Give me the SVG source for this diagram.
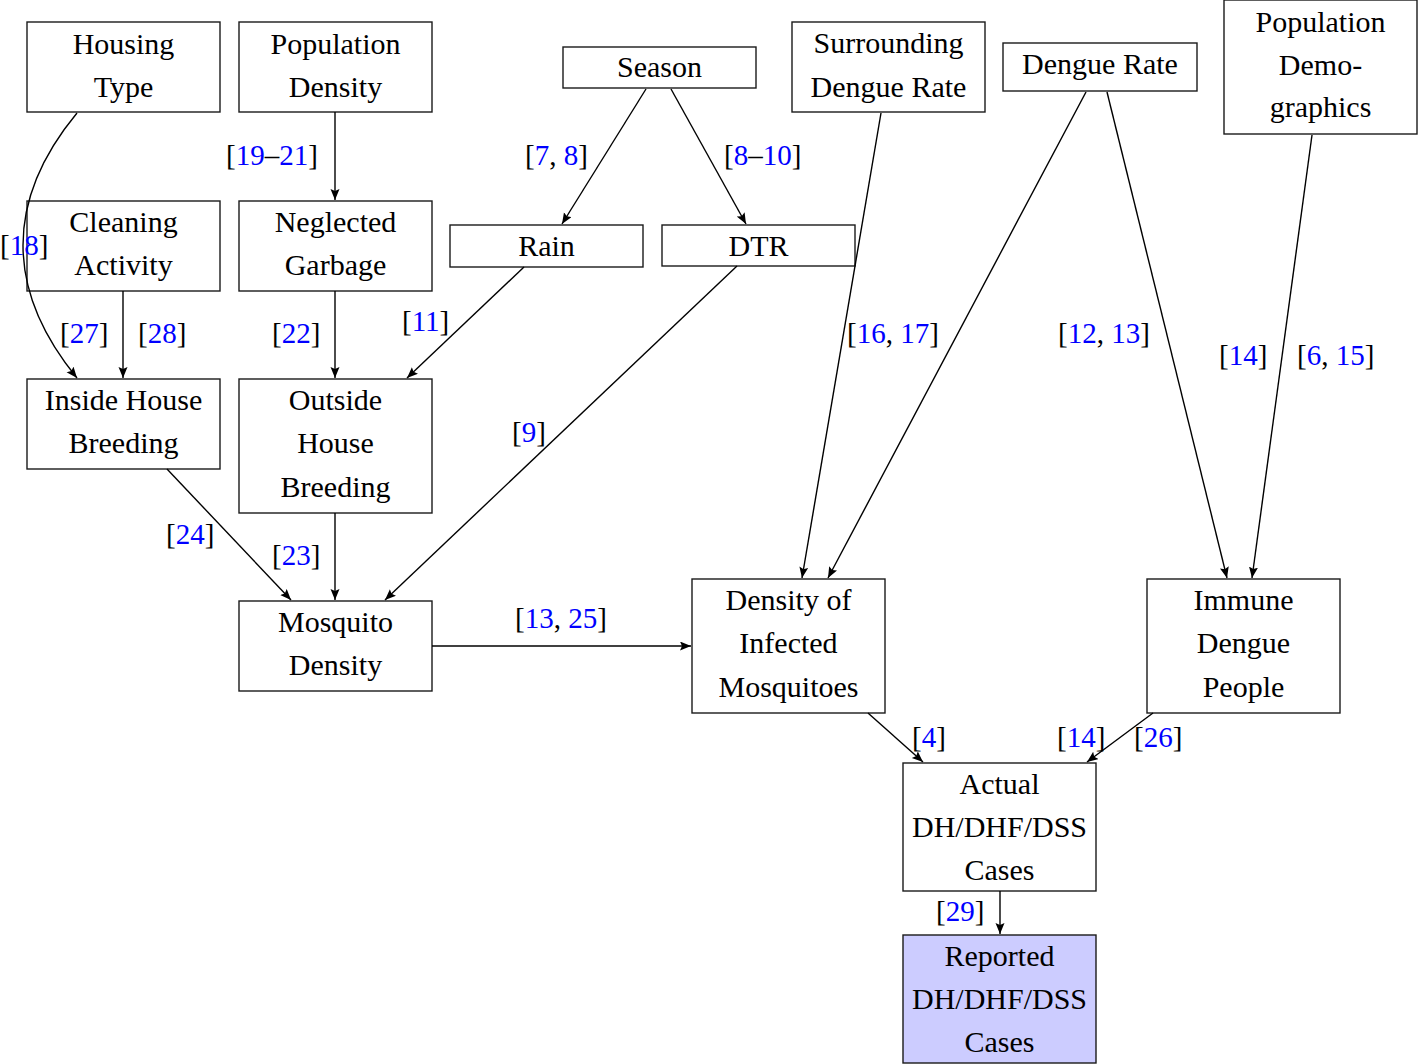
<svg xmlns="http://www.w3.org/2000/svg" width="1418" height="1064" viewBox="0 0 1418 1064">
<style>
.n rect{fill:#fff;stroke:#1a1a1a;stroke-width:1.4}
.n text{font-family:"Liberation Serif","Times New Roman",serif;font-size:30px;fill:#000;text-anchor:middle}
#reported rect{fill:#ccccff}
.e path{fill:none;stroke:#000;stroke-width:1.4;marker-end:url(#ah)}
.l text{font-family:"Liberation Serif","Times New Roman",serif;font-size:29px;fill:#000}
.l tspan.b{fill:#0000ff}
</style>
<defs>
<marker id="ah" markerUnits="userSpaceOnUse" markerWidth="12" markerHeight="10" refX="11" refY="4.5" orient="auto">
<path d="M0,0 L11,4.5 L0,9 L2,4.5 z" fill="#000"/>
</marker>
</defs>
<g class="n" id="housing"><rect x="27" y="22" width="193" height="90"/><text x="123.5" y="54">Housing</text><text x="123.5" y="97">Type</text></g>
<g class="n" id="popdensity"><rect x="239" y="22" width="193" height="90"/><text x="335.5" y="54">Population</text><text x="335.5" y="97">Density</text></g>
<g class="n" id="cleaning"><rect x="27" y="201" width="193" height="90"/><text x="123.5" y="232">Cleaning</text><text x="123.5" y="275">Activity</text></g>
<g class="n" id="garbage"><rect x="239" y="201" width="193" height="90"/><text x="335.5" y="232">Neglected</text><text x="335.5" y="275">Garbage</text></g>
<g class="n" id="season"><rect x="563" y="47" width="193" height="41"/><text x="659.5" y="77">Season</text></g>
<g class="n" id="rain"><rect x="450" y="225" width="193" height="42"/><text x="546.5" y="256">Rain</text></g>
<g class="n" id="dtr"><rect x="662" y="225" width="193" height="41"/><text x="758.5" y="256">DTR</text></g>
<g class="n" id="surrounding"><rect x="792" y="22" width="193" height="90"/><text x="888.5" y="53">Surrounding</text><text x="888.5" y="97">Dengue Rate</text></g>
<g class="n" id="denguerate"><rect x="1003" y="43" width="194" height="48"/><text x="1100" y="74">Dengue Rate</text></g>
<g class="n" id="popdemo"><rect x="1224" y="0" width="193" height="134"/><text x="1320.5" y="32">Population</text><text x="1320.5" y="75">Demo-</text><text x="1320.5" y="117">graphics</text></g>
<g class="n" id="inside"><rect x="27" y="379" width="193" height="90"/><text x="123.5" y="410">Inside House</text><text x="123.5" y="453">Breeding</text></g>
<g class="n" id="outside"><rect x="239" y="379" width="193" height="134"/><text x="335.5" y="410">Outside</text><text x="335.5" y="453">House</text><text x="335.5" y="497">Breeding</text></g>
<g class="n" id="mosquito"><rect x="239" y="601" width="193" height="90"/><text x="335.5" y="632">Mosquito</text><text x="335.5" y="675">Density</text></g>
<g class="n" id="infected"><rect x="692" y="579" width="193" height="134"/><text x="788.5" y="610">Density of</text><text x="788.5" y="653">Infected</text><text x="788.5" y="697">Mosquitoes</text></g>
<g class="n" id="immune"><rect x="1147" y="579" width="193" height="134"/><text x="1243.5" y="610">Immune</text><text x="1243.5" y="653">Dengue</text><text x="1243.5" y="697">People</text></g>
<g class="n" id="actual"><rect x="903" y="763" width="193" height="128"/><text x="999.5" y="794">Actual</text><text x="999.5" y="837">DH/DHF/DSS</text><text x="999.5" y="880">Cases</text></g>
<g class="n" id="reported"><rect x="903" y="935" width="193" height="128"/><text x="999.5" y="966">Reported</text><text x="999.5" y="1009">DH/DHF/DSS</text><text x="999.5" y="1052">Cases</text></g>
<g class="e" id="connectors">
<path d="M77,113 C5,200 5,290 77,378"/>
<path d="M335,112 L335,200"/>
<path d="M123,291 L123,378"/>
<path d="M335,291 L335,378"/>
<path d="M524,267 L407,378"/>
<path d="M646,89 L562,224"/>
<path d="M671,89 L746,224"/>
<path d="M737,266 L385,600"/>
<path d="M167,469 L291,600"/>
<path d="M335,513 L335,600"/>
<path d="M432,646 L691,646"/>
<path d="M881,113 L802,578"/>
<path d="M1086,92 L828,578"/>
<path d="M1107,92 L1227,578"/>
<path d="M1312,135 L1252,578"/>
<path d="M868,713 L923,762"/>
<path d="M1153,713 L1087,762"/>
<path d="M1000,891 L1000,934"/>
</g>
<g class="l" id="labels">
<text x="0" y="255">[<tspan class="b">18</tspan>]</text>
<text x="226" y="165">[<tspan class="b">19</tspan>–<tspan class="b">21</tspan>]</text>
<text x="60" y="343">[<tspan class="b">27</tspan>]</text>
<text x="138" y="343">[<tspan class="b">28</tspan>]</text>
<text x="272" y="343">[<tspan class="b">22</tspan>]</text>
<text x="402" y="331">[<tspan class="b">11</tspan>]</text>
<text x="525" y="165">[<tspan class="b">7</tspan>, <tspan class="b">8</tspan>]</text>
<text x="724" y="165">[<tspan class="b">8</tspan>–<tspan class="b">10</tspan>]</text>
<text x="512" y="442">[<tspan class="b">9</tspan>]</text>
<text x="166" y="544">[<tspan class="b">24</tspan>]</text>
<text x="272" y="565">[<tspan class="b">23</tspan>]</text>
<text x="515" y="628">[<tspan class="b">13</tspan>, <tspan class="b">25</tspan>]</text>
<text x="847" y="343">[<tspan class="b">16</tspan>, <tspan class="b">17</tspan>]</text>
<text x="1058" y="343">[<tspan class="b">12</tspan>, <tspan class="b">13</tspan>]</text>
<text x="1219" y="365">[<tspan class="b">14</tspan>]</text>
<text x="1297" y="365">[<tspan class="b">6</tspan>, <tspan class="b">15</tspan>]</text>
<text x="912" y="747">[<tspan class="b">4</tspan>]</text>
<text x="1057" y="747">[<tspan class="b">14</tspan>]</text>
<text x="1134" y="747">[<tspan class="b">26</tspan>]</text>
<text x="936" y="921">[<tspan class="b">29</tspan>]</text>
</g>
</svg>
